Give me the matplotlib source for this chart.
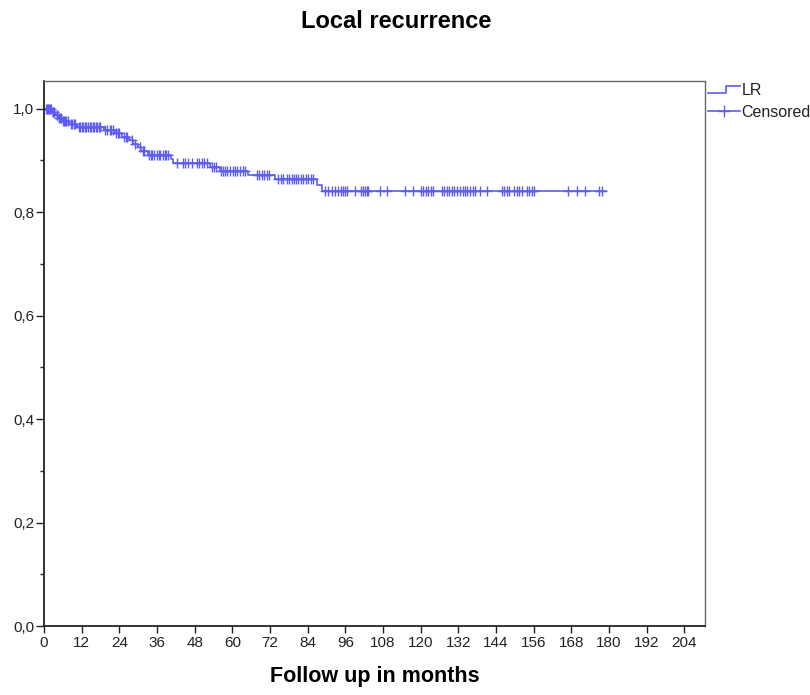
import numpy as np
import matplotlib
matplotlib.use("Agg")
import matplotlib.pyplot as plt
from matplotlib.lines import Line2D
from matplotlib.legend_handler import HandlerBase
from matplotlib.ticker import FuncFormatter, MultipleLocator

plt.rcParams['font.family'] = ['Liberation Sans', 'DejaVu Sans']

# Kaplan-Meier estimate
event_times = [2.5, 3.5, 4.5, 6.0, 8.0, 10.5, 19.0, 22.5, 25.0, 27.0, 28.5, 29.8,
               31.0, 33.0, 40.4, 41.0, 53.0, 56.0, 65.1, 73.5, 87.0, 88.7]
surv_after = [0.994, 0.988, 0.982, 0.976, 0.970, 0.964, 0.958, 0.952, 0.946, 0.939,
              0.932, 0.925, 0.918, 0.911, 0.903, 0.895, 0.887, 0.880, 0.872, 0.864,
              0.853, 0.840]
censor_times = [0.5, 1.0, 1.2, 1.5, 2.0, 2.2, 2.8, 3.0, 3.2, 4.0, 4.2, 4.8, 5.0, 5.5,
                6.2, 6.5, 6.8, 7.0, 7.5, 8.5, 9.0, 9.5, 10.0, 11.0, 11.5, 12.0,
                12.5, 13.0, 13.5, 14.0, 14.5, 15.0, 15.5, 16.0, 16.5, 17.0, 17.5, 18.0,
                19.5, 20.0, 21.0, 21.5, 22.0, 23.0, 23.5, 24.0, 25.5, 26.0, 26.5,
                28.0, 29.0, 30.5, 31.5, 32.0, 33.5, 34.0, 34.5, 35.0, 36.0,
                36.5, 37.0, 38.0, 38.5, 39.0, 39.5, 42.3, 44.3, 45.0, 45.9, 47.0, 48.6,
                49.5, 50.2, 51.0, 51.8, 53.5, 54.3, 54.8, 56.5, 57.0, 57.7, 58.4, 59.3,
                60.1, 60.9, 61.6, 62.4, 63.3, 64.0, 67.8, 68.6, 69.4, 70.1, 71.0, 71.8,
                74.7, 75.4, 76.2, 77.3, 78.1, 78.9, 79.6, 80.3, 81.0, 81.8, 82.6, 83.5,
                84.2, 85.0, 85.8, 89.5, 90.6, 91.6, 92.7, 93.8, 94.5, 95.2, 95.8, 96.4,
                99.1, 100.9, 101.5, 102.2, 102.8, 103.3, 107.0, 109.2, 115.0, 117.6,
                120.1, 120.8, 121.7, 122.4, 123.2, 124.0, 126.7, 127.4, 128.3, 129.0,
                129.9, 130.6, 131.5, 132.7, 133.4, 134.1, 134.9, 135.7, 136.6, 137.3,
                138.9, 141.0, 145.8, 146.5, 147.4, 148.1, 149.7, 150.6, 151.4, 152.2,
                153.8, 154.5, 155.4, 156.2, 167.0, 169.9, 172.3, 176.9, 177.7]
followup_end = 179.2

x_ticks = list(range(0, 205, 12))
y_ticks = [0.0, 0.2, 0.4, 0.6, 0.8, 1.0]

color = '#5c5cf4'


class StepHandler(HandlerBase):
    # legend key drawn as a small step, like SPSS does
    def create_artists(self, legend, orig_handle, xdescent, ydescent,
                       width, height, fontsize, trans):
        x0 = -xdescent
        mid = x0 + width * 0.55
        lo = -ydescent + height * 0.2
        hi = -ydescent + height * 0.8
        line = Line2D([x0, mid, mid, x0 + width], [lo, lo, hi, hi],
                      color=orig_handle.get_color(), lw=orig_handle.get_linewidth())
        line.set_transform(trans)
        return [line]


fig = plt.figure(figsize=(8.1, 6.95), dpi=100)
ax = fig.add_axes([44 / 810, 69 / 695, 661 / 810, 545 / 695])

xs = [0.0] + event_times + [followup_end]
ys = [1.0] + surv_after + [surv_after[-1]]
ax.step(xs, ys, where='post', color=color, lw=1.2)

levels = np.array([1.0] + surv_after)
idx = np.searchsorted(event_times, censor_times, side='right')
ax.plot(censor_times, levels[idx], linestyle='none', marker='+', ms=7.5,
        mew=1.0, color=color)

ax.set_xlim(0, 210.6)
ax.set_ylim(0, 1.0534)
ax.set_xticks(x_ticks)
ax.set_yticks(y_ticks)
ax.yaxis.set_minor_locator(MultipleLocator(0.1))
ax.yaxis.set_major_formatter(FuncFormatter(lambda v, p: f"{v:.1f}".replace('.', ',')))
ax.tick_params(axis='both', which='major', labelsize=11, width=1.0, color='#222222',
               labelcolor='#222222')
ax.tick_params(axis='x', which='major', length=5, pad=2)
ax.tick_params(axis='y', which='major', length=6, pad=1)
ax.tick_params(axis='y', which='minor', length=3, width=1.0, color='#222222')

for side in ['left', 'bottom']:
    ax.spines[side].set_color('#111111')
    ax.spines[side].set_linewidth(1.2)
for side in ['top', 'right']:
    ax.spines[side].set_color('#666666')
    ax.spines[side].set_linewidth(1.0)

ax.set_xlabel('Follow up in months', fontsize=15.5, fontweight='bold', labelpad=12)
fig.text(396 / 810, 1 - 21 / 695, 'Local recurrence', fontsize=17, fontweight='bold',
         ha='center', va='center')

lr_handle = Line2D([], [], color=color, lw=1.2)
cens_handle = Line2D([], [], color=color, lw=1.2, marker='+', ms=9, mew=1.0)
leg = fig.legend([lr_handle, cens_handle], ['LR', 'Censored'],
                 handler_map={lr_handle: StepHandler()},
                 loc='upper left', bbox_to_anchor=(705 / 810, 1 - 80 / 695),
                 frameon=False, fontsize=11.5, handlelength=2.0, handletextpad=0.1,
                 labelspacing=0.4, borderaxespad=0, borderpad=0.2, numpoints=1)
for t in leg.get_texts():
    t.set_color('#222222')

plt.savefig('out.png', dpi=100)
